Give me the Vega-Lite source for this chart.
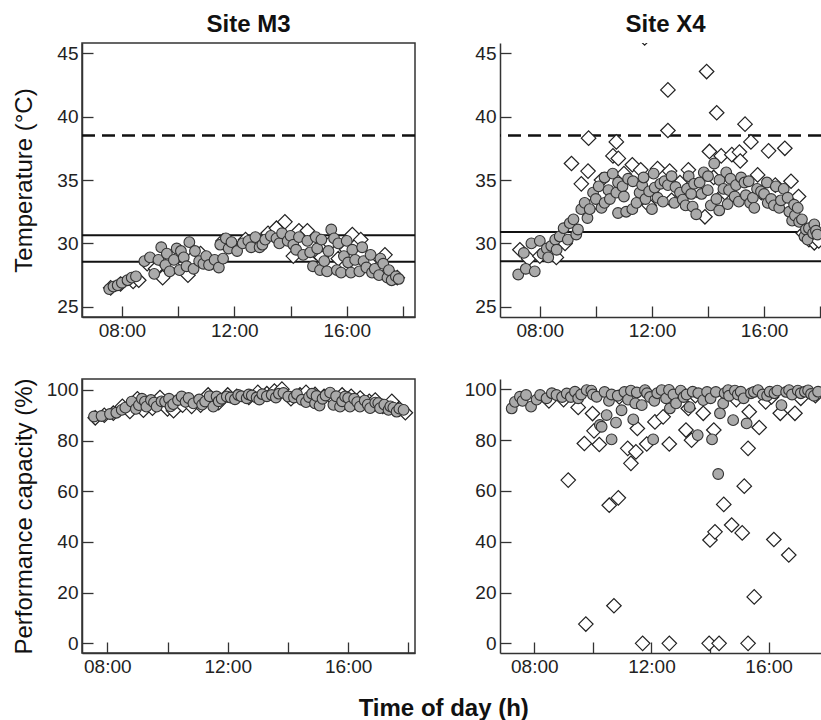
{
  "$schema": "https://vega.github.io/schema/vega-lite/v6.json",
  "background": "white",
  "padding": {"left": 11, "top": 12, "right": 0, "bottom": 0},
  "config": {
    "view": {"stroke": "#333", "strokeWidth": 1.5},
    "axis": {"grid": false, "domainColor": "#333", "domainWidth": 1.5, "tickColor": "#333", "tickWidth": 1.3, "tickSize": -11, "labelPadding": 15, "labelFont": "Liberation Sans", "labelFontSize": 19, "labelColor": "#222", "labelFlush": false, "labelOverlap": false, "titleFont": "Liberation Sans", "titleFontSize": 24, "titleFontWeight": "normal", "titleColor": "#111"},
    "title": {"font": "Liberation Sans", "fontSize": 24, "fontWeight": "bold", "color": "#111", "offset": 6}
  },
  "title": {"text": "Time of day (h)", "orient": "bottom", "anchor": "middle", "offset": 20, "dx": 27},
  "datasets": {
    "ref": [
      {"site": "M3", "kind": "dash", "v": 38.5},
      {"site": "M3", "kind": "solid", "v": 30.65},
      {"site": "M3", "kind": "solid", "v": 28.55},
      {"site": "X4", "kind": "dash", "v": 38.5},
      {"site": "X4", "kind": "solid", "v": 30.9},
      {"site": "X4", "kind": "solid", "v": 28.6}
    ],
    "m3t_c": [
      {"h": 7.55, "v": 26.4}, {"h": 7.7, "v": 26.6}, {"h": 7.85, "v": 26.7}, {"h": 8.0, "v": 26.9}, {"h": 8.2, "v": 27.1}, {"h": 8.35, "v": 27.3}, {"h": 8.5, "v": 27.4}, {"h": 8.8, "v": 28.6}, {"h": 9.0, "v": 28.9}, {"h": 9.15, "v": 27.6}, {"h": 9.3, "v": 28.7}, {"h": 9.4, "v": 29.7}, {"h": 9.55, "v": 28.3}, {"h": 9.6, "v": 29.2}, {"h": 9.7, "v": 27.8}, {"h": 9.85, "v": 28.7}, {"h": 9.95, "v": 29.6}, {"h": 10.05, "v": 27.9}, {"h": 10.1, "v": 29.4}, {"h": 10.2, "v": 28.9}, {"h": 10.3, "v": 28.2}, {"h": 10.4, "v": 30.1}, {"h": 10.55, "v": 28.0}, {"h": 10.6, "v": 29.4}, {"h": 10.75, "v": 28.6}, {"h": 10.9, "v": 28.4}, {"h": 11.0, "v": 29.0}, {"h": 11.1, "v": 28.3}, {"h": 11.3, "v": 28.7}, {"h": 11.45, "v": 28.1}, {"h": 11.5, "v": 29.9}, {"h": 11.6, "v": 28.8}, {"h": 11.7, "v": 30.4}, {"h": 11.8, "v": 29.6}, {"h": 11.9, "v": 30.1}, {"h": 12.1, "v": 29.4}, {"h": 12.3, "v": 30.0}, {"h": 12.5, "v": 30.2}, {"h": 12.6, "v": 29.7}, {"h": 12.75, "v": 30.5}, {"h": 12.9, "v": 29.7}, {"h": 13.0, "v": 29.9}, {"h": 13.1, "v": 30.3}, {"h": 13.3, "v": 30.6}, {"h": 13.5, "v": 30.4}, {"h": 13.6, "v": 30.0}, {"h": 13.7, "v": 30.8}, {"h": 13.9, "v": 30.2}, {"h": 14.0, "v": 30.6}, {"h": 14.1, "v": 29.9}, {"h": 14.2, "v": 29.5}, {"h": 14.3, "v": 30.5}, {"h": 14.45, "v": 29.1}, {"h": 14.6, "v": 30.2}, {"h": 14.7, "v": 29.3}, {"h": 14.8, "v": 28.2}, {"h": 14.9, "v": 30.5}, {"h": 14.95, "v": 29.6}, {"h": 15.05, "v": 27.9}, {"h": 15.1, "v": 30.3}, {"h": 15.2, "v": 28.6}, {"h": 15.3, "v": 27.8}, {"h": 15.35, "v": 29.4}, {"h": 15.45, "v": 31.1}, {"h": 15.55, "v": 30.4}, {"h": 15.65, "v": 27.9}, {"h": 15.7, "v": 30.0}, {"h": 15.8, "v": 27.7}, {"h": 15.9, "v": 29.0}, {"h": 16.0, "v": 30.2}, {"h": 16.05, "v": 28.5}, {"h": 16.15, "v": 27.7}, {"h": 16.2, "v": 29.5}, {"h": 16.3, "v": 28.7}, {"h": 16.45, "v": 27.8}, {"h": 16.55, "v": 29.7}, {"h": 16.6, "v": 28.6}, {"h": 16.7, "v": 28.1}, {"h": 16.85, "v": 29.1}, {"h": 16.9, "v": 27.7}, {"h": 17.0, "v": 28.0}, {"h": 17.15, "v": 27.5}, {"h": 17.2, "v": 28.8}, {"h": 17.3, "v": 28.4}, {"h": 17.45, "v": 27.3}, {"h": 17.5, "v": 27.9}, {"h": 17.6, "v": 27.1}, {"h": 17.75, "v": 27.4}, {"h": 17.85, "v": 27.2}
    ],
    "m3t_d": [
      {"h": 7.6, "v": 26.5}, {"h": 7.95, "v": 26.8}, {"h": 8.4, "v": 27.0}, {"h": 8.6, "v": 27.1}, {"h": 8.9, "v": 28.4}, {"h": 9.2, "v": 28.0}, {"h": 9.45, "v": 27.3}, {"h": 9.8, "v": 28.3}, {"h": 10.35, "v": 27.5}, {"h": 10.5, "v": 28.8}, {"h": 10.8, "v": 29.2}, {"h": 11.2, "v": 28.5}, {"h": 11.6, "v": 30.2}, {"h": 12.0, "v": 29.8}, {"h": 12.4, "v": 30.3}, {"h": 12.8, "v": 30.1}, {"h": 13.2, "v": 30.8}, {"h": 13.5, "v": 31.2}, {"h": 13.8, "v": 31.7}, {"h": 14.1, "v": 29.0}, {"h": 14.3, "v": 31.0}, {"h": 14.6, "v": 31.0}, {"h": 14.9, "v": 29.3}, {"h": 15.1, "v": 28.9}, {"h": 15.4, "v": 30.0}, {"h": 15.7, "v": 28.8}, {"h": 16.0, "v": 29.5}, {"h": 16.2, "v": 30.7}, {"h": 16.5, "v": 30.3}, {"h": 16.8, "v": 28.5}, {"h": 17.1, "v": 28.0}, {"h": 17.36, "v": 29.1}, {"h": 17.6, "v": 27.5}, {"h": 17.8, "v": 27.3}
    ],
    "x4t_c": [
      {"h": 7.23, "v": 27.55}, {"h": 7.5, "v": 28.0}, {"h": 7.82, "v": 27.8}, {"h": 7.43, "v": 29.25}, {"h": 7.7, "v": 30.0}, {"h": 8.0, "v": 30.2}, {"h": 8.1, "v": 29.2}, {"h": 8.25, "v": 29.6}, {"h": 8.3, "v": 28.9}, {"h": 8.41, "v": 29.8}, {"h": 8.55, "v": 30.3}, {"h": 8.6, "v": 29.5}, {"h": 8.71, "v": 30.55}, {"h": 8.85, "v": 31.2}, {"h": 9.0, "v": 30.3}, {"h": 9.07, "v": 31.6}, {"h": 9.2, "v": 31.9}, {"h": 9.3, "v": 30.7}, {"h": 9.36, "v": 31.1}, {"h": 9.48, "v": 32.7}, {"h": 9.6, "v": 33.2}, {"h": 9.7, "v": 32.0}, {"h": 9.78, "v": 32.7}, {"h": 9.9, "v": 34.0}, {"h": 10.0, "v": 33.5}, {"h": 10.1, "v": 34.5}, {"h": 10.2, "v": 32.8}, {"h": 10.31, "v": 35.2}, {"h": 10.31, "v": 33.2}, {"h": 10.45, "v": 34.2}, {"h": 10.5, "v": 33.5}, {"h": 10.6, "v": 35.5}, {"h": 10.73, "v": 34.0}, {"h": 10.79, "v": 32.4}, {"h": 10.79, "v": 34.8}, {"h": 10.95, "v": 34.5}, {"h": 11.0, "v": 33.7}, {"h": 11.08, "v": 32.5}, {"h": 11.15, "v": 35.1}, {"h": 11.3, "v": 32.7}, {"h": 11.32, "v": 34.9}, {"h": 11.45, "v": 33.2}, {"h": 11.56, "v": 34.0}, {"h": 11.65, "v": 34.6}, {"h": 11.7, "v": 35.2}, {"h": 11.77, "v": 33.5}, {"h": 11.9, "v": 34.1}, {"h": 12.0, "v": 32.7}, {"h": 12.06, "v": 35.5}, {"h": 12.1, "v": 34.4}, {"h": 12.2, "v": 33.6}, {"h": 12.3, "v": 34.7}, {"h": 12.39, "v": 33.3}, {"h": 12.45, "v": 34.9}, {"h": 12.57, "v": 34.6}, {"h": 12.7, "v": 35.3}, {"h": 12.8, "v": 33.2}, {"h": 12.84, "v": 34.45}, {"h": 13.0, "v": 34.0}, {"h": 13.1, "v": 33.45}, {"h": 13.2, "v": 33.0}, {"h": 13.25, "v": 34.3}, {"h": 13.31, "v": 35.3}, {"h": 13.4, "v": 33.9}, {"h": 13.45, "v": 32.9}, {"h": 13.5, "v": 34.7}, {"h": 13.58, "v": 32.3}, {"h": 13.7, "v": 34.8}, {"h": 13.77, "v": 33.9}, {"h": 13.85, "v": 35.6}, {"h": 13.99, "v": 34.2}, {"h": 14.0, "v": 35.3}, {"h": 14.1, "v": 33.0}, {"h": 14.22, "v": 36.3}, {"h": 14.3, "v": 33.5}, {"h": 14.4, "v": 32.6}, {"h": 14.41, "v": 35.0}, {"h": 14.55, "v": 34.3}, {"h": 14.65, "v": 35.6}, {"h": 14.7, "v": 33.1}, {"h": 14.75, "v": 34.2}, {"h": 14.8, "v": 35.1}, {"h": 14.95, "v": 33.7}, {"h": 15.0, "v": 34.6}, {"h": 15.1, "v": 33.3}, {"h": 15.18, "v": 35.2}, {"h": 15.3, "v": 34.8}, {"h": 15.35, "v": 33.8}, {"h": 15.45, "v": 34.9}, {"h": 15.5, "v": 33.2}, {"h": 15.6, "v": 33.6}, {"h": 15.65, "v": 32.8}, {"h": 15.75, "v": 34.3}, {"h": 15.89, "v": 34.1}, {"h": 16.0, "v": 33.9}, {"h": 16.1, "v": 34.8}, {"h": 16.13, "v": 33.2}, {"h": 16.25, "v": 33.5}, {"h": 16.35, "v": 33.0}, {"h": 16.42, "v": 34.5}, {"h": 16.54, "v": 32.8}, {"h": 16.6, "v": 33.4}, {"h": 16.7, "v": 34.3}, {"h": 16.84, "v": 33.6}, {"h": 16.9, "v": 32.5}, {"h": 17.0, "v": 31.8}, {"h": 17.07, "v": 33.05}, {"h": 17.1, "v": 32.2}, {"h": 17.2, "v": 32.8}, {"h": 17.25, "v": 31.7}, {"h": 17.35, "v": 31.9}, {"h": 17.44, "v": 30.55}, {"h": 17.49, "v": 31.1}, {"h": 17.55, "v": 30.3}, {"h": 17.6, "v": 31.2}, {"h": 17.75, "v": 30.8}, {"h": 17.79, "v": 31.5}, {"h": 17.85, "v": 31.0}, {"h": 17.9, "v": 30.7}
    ],
    "x4t_d": [
      {"h": 7.29, "v": 29.5}, {"h": 7.6, "v": 28.8}, {"h": 8.0, "v": 29.0}, {"h": 8.59, "v": 28.9}, {"h": 8.9, "v": 30.0}, {"h": 9.13, "v": 36.3}, {"h": 9.48, "v": 34.7}, {"h": 9.72, "v": 35.7}, {"h": 9.74, "v": 38.3}, {"h": 9.85, "v": 33.0}, {"h": 10.2, "v": 35.0}, {"h": 10.61, "v": 36.9}, {"h": 10.73, "v": 38.0}, {"h": 10.8, "v": 36.7}, {"h": 11.0, "v": 35.5}, {"h": 11.3, "v": 36.2}, {"h": 11.6, "v": 35.8}, {"h": 11.74, "v": 46.2}, {"h": 11.9, "v": 33.0}, {"h": 12.2, "v": 35.9}, {"h": 12.57, "v": 42.1}, {"h": 12.57, "v": 38.9}, {"h": 12.63, "v": 35.7}, {"h": 12.7, "v": 33.4}, {"h": 13.0, "v": 34.8}, {"h": 13.3, "v": 35.8}, {"h": 13.6, "v": 34.2}, {"h": 13.89, "v": 32.1}, {"h": 13.95, "v": 43.55}, {"h": 14.05, "v": 37.25}, {"h": 14.2, "v": 35.2}, {"h": 14.31, "v": 40.3}, {"h": 14.47, "v": 36.9}, {"h": 14.6, "v": 34.0}, {"h": 14.85, "v": 37.0}, {"h": 15.12, "v": 37.2}, {"h": 15.15, "v": 36.5}, {"h": 15.32, "v": 39.4}, {"h": 15.53, "v": 38.0}, {"h": 15.77, "v": 35.4}, {"h": 15.9, "v": 34.0}, {"h": 16.16, "v": 37.3}, {"h": 16.4, "v": 34.6}, {"h": 16.74, "v": 37.5}, {"h": 16.96, "v": 34.9}, {"h": 17.23, "v": 33.7}, {"h": 17.4, "v": 30.8}, {"h": 17.6, "v": 30.3}, {"h": 17.79, "v": 30.05}, {"h": 17.95, "v": 30.2}
    ],
    "m3p_c": [
      {"h": 7.56, "v": 89.5}, {"h": 7.81, "v": 89.7}, {"h": 8.09, "v": 90.5}, {"h": 8.3, "v": 91.0}, {"h": 8.48, "v": 92.1}, {"h": 8.6, "v": 93.0}, {"h": 8.81, "v": 95.4}, {"h": 8.95, "v": 92.5}, {"h": 9.05, "v": 94.0}, {"h": 9.15, "v": 96.5}, {"h": 9.25, "v": 95.4}, {"h": 9.3, "v": 93.4}, {"h": 9.45, "v": 96.0}, {"h": 9.55, "v": 95.0}, {"h": 9.64, "v": 93.4}, {"h": 9.8, "v": 95.5}, {"h": 9.92, "v": 95.4}, {"h": 10.05, "v": 96.5}, {"h": 10.1, "v": 93.5}, {"h": 10.19, "v": 94.4}, {"h": 10.35, "v": 96.0}, {"h": 10.47, "v": 97.4}, {"h": 10.6, "v": 95.3}, {"h": 10.7, "v": 96.8}, {"h": 10.86, "v": 94.7}, {"h": 11.05, "v": 96.2}, {"h": 11.15, "v": 94.2}, {"h": 11.25, "v": 95.4}, {"h": 11.4, "v": 97.5}, {"h": 11.52, "v": 93.4}, {"h": 11.63, "v": 97.4}, {"h": 11.7, "v": 95.5}, {"h": 11.8, "v": 96.5}, {"h": 11.97, "v": 97.4}, {"h": 12.1, "v": 97.0}, {"h": 12.24, "v": 96.3}, {"h": 12.35, "v": 98.0}, {"h": 12.45, "v": 97.5}, {"h": 12.63, "v": 96.7}, {"h": 12.7, "v": 98.2}, {"h": 12.8, "v": 97.8}, {"h": 12.96, "v": 97.0}, {"h": 13.05, "v": 96.2}, {"h": 13.15, "v": 98.3}, {"h": 13.3, "v": 97.5}, {"h": 13.46, "v": 98.0}, {"h": 13.6, "v": 97.0}, {"h": 13.7, "v": 98.5}, {"h": 13.85, "v": 98.8}, {"h": 14.01, "v": 97.4}, {"h": 14.2, "v": 97.0}, {"h": 14.3, "v": 98.3}, {"h": 14.46, "v": 96.1}, {"h": 14.6, "v": 95.2}, {"h": 14.7, "v": 97.2}, {"h": 14.8, "v": 98.5}, {"h": 14.9, "v": 94.7}, {"h": 14.95, "v": 97.6}, {"h": 15.05, "v": 93.8}, {"h": 15.15, "v": 96.5}, {"h": 15.25, "v": 97.8}, {"h": 15.4, "v": 98.9}, {"h": 15.51, "v": 94.1}, {"h": 15.6, "v": 97.5}, {"h": 15.73, "v": 93.4}, {"h": 15.8, "v": 95.5}, {"h": 15.9, "v": 97.4}, {"h": 16.0, "v": 96.8}, {"h": 16.06, "v": 93.4}, {"h": 16.2, "v": 96.5}, {"h": 16.3, "v": 95.2}, {"h": 16.39, "v": 93.4}, {"h": 16.55, "v": 95.8}, {"h": 16.65, "v": 94.2}, {"h": 16.73, "v": 92.8}, {"h": 16.9, "v": 95.0}, {"h": 17.0, "v": 94.8}, {"h": 17.06, "v": 92.8}, {"h": 17.2, "v": 94.2}, {"h": 17.34, "v": 92.1}, {"h": 17.4, "v": 93.5}, {"h": 17.5, "v": 93.0}, {"h": 17.61, "v": 91.4}, {"h": 17.7, "v": 92.6}, {"h": 17.84, "v": 92.1}
    ],
    "m3p_d": [
      {"h": 7.6, "v": 89.0}, {"h": 7.9, "v": 90.0}, {"h": 8.2, "v": 90.8}, {"h": 8.5, "v": 93.5}, {"h": 8.75, "v": 91.5}, {"h": 9.0, "v": 96.5}, {"h": 9.2, "v": 92.0}, {"h": 9.5, "v": 92.8}, {"h": 9.75, "v": 97.0}, {"h": 10.0, "v": 92.5}, {"h": 10.2, "v": 91.8}, {"h": 10.5, "v": 94.0}, {"h": 10.8, "v": 93.5}, {"h": 11.1, "v": 94.0}, {"h": 11.35, "v": 98.0}, {"h": 11.7, "v": 95.0}, {"h": 12.0, "v": 98.0}, {"h": 12.3, "v": 97.5}, {"h": 12.7, "v": 97.0}, {"h": 13.0, "v": 99.0}, {"h": 13.3, "v": 98.5}, {"h": 13.55, "v": 99.5}, {"h": 13.8, "v": 100.3}, {"h": 14.1, "v": 96.5}, {"h": 14.4, "v": 98.0}, {"h": 14.6, "v": 99.0}, {"h": 14.9, "v": 98.2}, {"h": 15.2, "v": 97.5}, {"h": 15.5, "v": 96.5}, {"h": 15.8, "v": 98.0}, {"h": 16.1, "v": 97.5}, {"h": 16.4, "v": 96.8}, {"h": 16.7, "v": 95.5}, {"h": 16.9, "v": 96.0}, {"h": 17.15, "v": 93.5}, {"h": 17.45, "v": 95.5}, {"h": 17.7, "v": 92.5}, {"h": 17.9, "v": 91.0}
    ],
    "x4p_c": [
      {"h": 7.23, "v": 92.5}, {"h": 7.34, "v": 95.1}, {"h": 7.51, "v": 97.1}, {"h": 7.6, "v": 95.5}, {"h": 7.72, "v": 97.8}, {"h": 7.89, "v": 93.2}, {"h": 8.08, "v": 96.0}, {"h": 8.2, "v": 97.8}, {"h": 8.42, "v": 96.5}, {"h": 8.6, "v": 98.5}, {"h": 8.76, "v": 97.8}, {"h": 8.95, "v": 97.0}, {"h": 9.11, "v": 98.4}, {"h": 9.25, "v": 97.0}, {"h": 9.39, "v": 99.1}, {"h": 9.5, "v": 96.5}, {"h": 9.6, "v": 98.0}, {"h": 9.79, "v": 99.7}, {"h": 9.95, "v": 99.5}, {"h": 10.0, "v": 98.0}, {"h": 10.13, "v": 97.1}, {"h": 10.24, "v": 86.0}, {"h": 10.3, "v": 85.3}, {"h": 10.4, "v": 99.0}, {"h": 10.47, "v": 89.9}, {"h": 10.55, "v": 95.5}, {"h": 10.64, "v": 80.3}, {"h": 10.64, "v": 98.0}, {"h": 10.79, "v": 86.9}, {"h": 10.85, "v": 97.5}, {"h": 10.98, "v": 91.8}, {"h": 11.08, "v": 99.0}, {"h": 11.2, "v": 96.0}, {"h": 11.3, "v": 99.5}, {"h": 11.38, "v": 88.2}, {"h": 11.45, "v": 94.5}, {"h": 11.5, "v": 98.8}, {"h": 11.67, "v": 93.8}, {"h": 11.78, "v": 99.7}, {"h": 11.85, "v": 98.5}, {"h": 11.95, "v": 97.0}, {"h": 12.06, "v": 80.3}, {"h": 12.1, "v": 95.5}, {"h": 12.2, "v": 98.5}, {"h": 12.35, "v": 99.7}, {"h": 12.5, "v": 96.5}, {"h": 12.6, "v": 99.8}, {"h": 12.63, "v": 92.5}, {"h": 12.75, "v": 98.0}, {"h": 12.84, "v": 94.5}, {"h": 13.0, "v": 99.5}, {"h": 13.1, "v": 97.0}, {"h": 13.2, "v": 98.0}, {"h": 13.3, "v": 93.0}, {"h": 13.41, "v": 99.1}, {"h": 13.58, "v": 82.0}, {"h": 13.6, "v": 98.5}, {"h": 13.77, "v": 95.8}, {"h": 13.9, "v": 99.0}, {"h": 14.02, "v": 96.5}, {"h": 14.07, "v": 80.3}, {"h": 14.2, "v": 99.0}, {"h": 14.28, "v": 66.7}, {"h": 14.34, "v": 90.6}, {"h": 14.45, "v": 94.5}, {"h": 14.5, "v": 98.5}, {"h": 14.62, "v": 99.7}, {"h": 14.65, "v": 97.5}, {"h": 14.79, "v": 87.9}, {"h": 14.85, "v": 99.5}, {"h": 14.95, "v": 98.0}, {"h": 15.05, "v": 99.1}, {"h": 15.15, "v": 96.5}, {"h": 15.25, "v": 86.6}, {"h": 15.4, "v": 98.5}, {"h": 15.5, "v": 99.0}, {"h": 15.64, "v": 99.7}, {"h": 15.8, "v": 98.0}, {"h": 15.95, "v": 97.5}, {"h": 16.04, "v": 99.1}, {"h": 16.2, "v": 98.5}, {"h": 16.3, "v": 99.5}, {"h": 16.44, "v": 93.8}, {"h": 16.6, "v": 99.0}, {"h": 16.7, "v": 99.7}, {"h": 16.8, "v": 98.0}, {"h": 17.0, "v": 99.5}, {"h": 17.1, "v": 98.5}, {"h": 17.24, "v": 99.1}, {"h": 17.35, "v": 99.6}, {"h": 17.45, "v": 98.2}, {"h": 17.55, "v": 97.5}, {"h": 17.69, "v": 99.1}
    ],
    "x4p_d": [
      {"h": 9.16, "v": 64.3}, {"h": 10.56, "v": 54.4}, {"h": 10.87, "v": 57.3}, {"h": 9.76, "v": 7.6}, {"h": 10.72, "v": 14.8}, {"h": 11.7, "v": 0}, {"h": 12.61, "v": 0}, {"h": 13.97, "v": 0}, {"h": 14.31, "v": 0}, {"h": 15.3, "v": 0}, {"h": 15.51, "v": 18.3}, {"h": 14.0, "v": 40.7}, {"h": 14.17, "v": 43.9}, {"h": 14.47, "v": 54.7}, {"h": 14.74, "v": 46.6}, {"h": 15.1, "v": 43.5}, {"h": 15.17, "v": 61.9}, {"h": 15.3, "v": 76.8}, {"h": 16.18, "v": 40.9}, {"h": 16.69, "v": 34.8}, {"h": 15.68, "v": 85.0}, {"h": 15.34, "v": 91.2}, {"h": 16.9, "v": 90.6}, {"h": 16.4, "v": 90.6}, {"h": 9.71, "v": 78.7}, {"h": 10.22, "v": 78.3}, {"h": 10.04, "v": 83.7}, {"h": 9.5, "v": 92.9}, {"h": 9.99, "v": 90.5}, {"h": 11.19, "v": 76.8}, {"h": 11.3, "v": 70.9}, {"h": 11.47, "v": 75.4}, {"h": 11.52, "v": 84.6}, {"h": 11.84, "v": 78.5}, {"h": 12.12, "v": 87.2}, {"h": 12.61, "v": 78.5}, {"h": 12.4, "v": 89.2}, {"h": 13.18, "v": 84.0}, {"h": 13.37, "v": 80.0}, {"h": 13.26, "v": 92.5}, {"h": 14.13, "v": 84.0}, {"h": 13.77, "v": 90.6}, {"h": 15.9, "v": 95.1}, {"h": 8.5, "v": 95.5}, {"h": 9.0, "v": 96.0}, {"h": 10.9, "v": 97.0}, {"h": 12.9, "v": 96.5}, {"h": 13.5, "v": 97.5}, {"h": 14.9, "v": 96.0}, {"h": 16.1, "v": 97.0}, {"h": 17.1, "v": 96.5}, {"h": 17.6, "v": 97.5}
    ]
  },
  "concat": [
    {
      "width": 333, "height": 274,
      "title": "Site M3",
      "layer": [
        {"data": {"name": "ref"}, "transform": [{"filter": "datum.site == 'M3' && datum.kind == 'dash'"}], "mark": {"type": "rule", "strokeDash": [13, 7], "strokeWidth": 2.5, "color": "#111"}, "encoding": {"y": {"field": "v", "type": "quantitative", "scale": {"domain": [24.2, 45.8], "nice": false, "zero": false}, "axis": {"values": [25, 30, 35, 40, 45], "title": "Temperature (°C)", "titleX": -46, "titleY": 137}}}},
        {"data": {"name": "ref"}, "transform": [{"filter": "datum.site == 'M3' && datum.kind == 'solid'"}], "mark": {"type": "rule", "strokeWidth": 2, "color": "#111"}, "encoding": {"y": {"field": "v", "type": "quantitative"}}},
        {"data": {"name": "m3t_d"}, "mark": {"type": "point", "shape": "diamond", "filled": true, "fill": "white", "stroke": "#222", "strokeWidth": 1.2, "size": 210, "opacity": 1, "clip": true}, "encoding": {"x": {"field": "h", "type": "quantitative", "scale": {"domain": [6.58, 18.43], "nice": false, "zero": false}, "axis": {"values": [8, 10, 12, 14, 16, 18], "labelExpr": "datum.value % 4 == 0 ? (datum.value < 10 ? '0' : '') + datum.value + ':00' : ''", "title": null}}, "y": {"field": "v", "type": "quantitative"}}},
        {"data": {"name": "m3t_c"}, "mark": {"type": "circle", "fill": "#aaaaaa", "stroke": "#333", "strokeWidth": 1.1, "size": 115, "opacity": 1, "clip": true}, "encoding": {"x": {"field": "h", "type": "quantitative"}, "y": {"field": "v", "type": "quantitative"}}}
      ]
    },
    {
      "width": 321, "height": 274,
      "title": {"text": "Site X4", "dx": 5},
      "view": {"stroke": null},
      "layer": [
        {"data": {"name": "ref"}, "transform": [{"filter": "datum.site == 'X4' && datum.kind == 'dash'"}], "mark": {"type": "rule", "strokeDash": [13, 7], "strokeWidth": 2.5, "color": "#111"}, "encoding": {"y": {"field": "v", "type": "quantitative", "scale": {"domain": [24.2, 45.8], "nice": false, "zero": false}, "axis": {"values": [25, 30, 35, 40, 45], "title": null}}}},
        {"data": {"name": "ref"}, "transform": [{"filter": "datum.site == 'X4' && datum.kind == 'solid'"}], "mark": {"type": "rule", "strokeWidth": 2, "color": "#111"}, "encoding": {"y": {"field": "v", "type": "quantitative"}}},
        {"mark": {"type": "rule", "strokeWidth": 1.5, "color": "#333"}, "encoding": {"y": {"datum": 45.8}}},
        {"data": {"name": "x4t_d"}, "mark": {"type": "point", "shape": "diamond", "filled": true, "fill": "white", "stroke": "#222", "strokeWidth": 1.2, "size": 210, "opacity": 1, "clip": true}, "encoding": {"x": {"field": "h", "type": "quantitative", "scale": {"domain": [6.58, 18.03], "nice": false, "zero": false}, "axis": {"values": [8, 10, 12, 14, 16, 18], "labelExpr": "datum.value % 4 == 0 ? (datum.value < 10 ? '0' : '') + datum.value + ':00' : ''", "title": null}}, "y": {"field": "v", "type": "quantitative"}}},
        {"data": {"name": "x4t_c"}, "mark": {"type": "circle", "fill": "#aaaaaa", "stroke": "#333", "strokeWidth": 1.1, "size": 115, "opacity": 1, "clip": true}, "encoding": {"x": {"field": "h", "type": "quantitative"}, "y": {"field": "v", "type": "quantitative"}}}
      ]
    },
    {
      "width": 333, "height": 274,
      "layer": [
        {"data": {"name": "m3p_d"}, "mark": {"type": "point", "shape": "diamond", "filled": true, "fill": "white", "stroke": "#222", "strokeWidth": 1.2, "size": 210, "opacity": 1, "clip": true}, "encoding": {"x": {"field": "h", "type": "quantitative", "scale": {"domain": [7.16, 18.22], "nice": false, "zero": false}, "axis": {"values": [8, 10, 12, 14, 16, 18], "labelExpr": "datum.value % 4 == 0 ? (datum.value < 10 ? '0' : '') + datum.value + ':00' : ''", "title": null}}, "y": {"field": "v", "type": "quantitative", "scale": {"domain": [-3.8, 104.3], "nice": false, "zero": false}, "axis": {"values": [0, 20, 40, 60, 80, 100], "title": "Performance capacity (%)", "titleX": -46, "titleY": 137}}}},
        {"data": {"name": "m3p_c"}, "mark": {"type": "circle", "fill": "#aaaaaa", "stroke": "#333", "strokeWidth": 1.1, "size": 115, "opacity": 1, "clip": true}, "encoding": {"x": {"field": "h", "type": "quantitative"}, "y": {"field": "v", "type": "quantitative"}}}
      ]
    },
    {
      "width": 321, "height": 274,
      "view": {"stroke": null},
      "layer": [
        {"mark": {"type": "rule", "strokeWidth": 1.5, "color": "#333"}, "encoding": {"y": {"datum": 104.1, "type": "quantitative", "scale": {"domain": [-3.8, 104.1], "nice": false, "zero": false}, "axis": {"values": [0, 20, 40, 60, 80, 100], "title": null}}}},
        {"data": {"name": "x4p_d"}, "mark": {"type": "point", "shape": "diamond", "filled": true, "fill": "white", "stroke": "#222", "strokeWidth": 1.2, "size": 210, "opacity": 1, "clip": true}, "encoding": {"x": {"field": "h", "type": "quantitative", "scale": {"domain": [6.83, 17.79], "nice": false, "zero": false}, "axis": {"values": [8, 10, 12, 14, 16, 18], "labelExpr": "datum.value % 4 == 0 ? (datum.value < 10 ? '0' : '') + datum.value + ':00' : ''", "title": null}}, "y": {"field": "v", "type": "quantitative"}}},
        {"data": {"name": "x4p_c"}, "mark": {"type": "circle", "fill": "#aaaaaa", "stroke": "#333", "strokeWidth": 1.1, "size": 115, "opacity": 1, "clip": true}, "encoding": {"x": {"field": "h", "type": "quantitative"}, "y": {"field": "v", "type": "quantitative"}}}
      ]
    }
  ],
  "columns": 2,
  "spacing": {"row": 62, "column": 85},
  "bounds": "flush"
}
